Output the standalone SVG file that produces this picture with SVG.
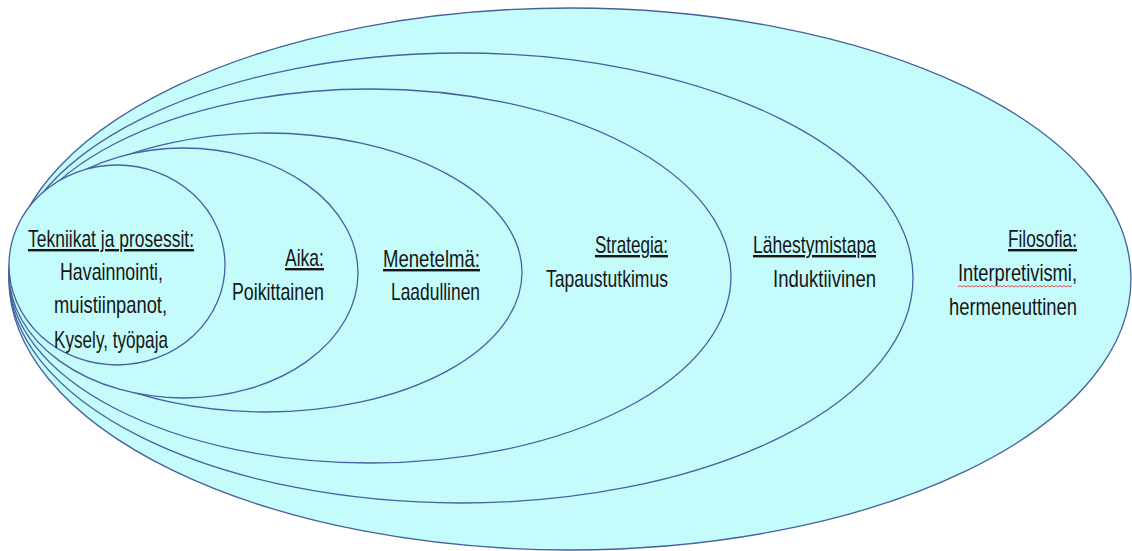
<svg xmlns="http://www.w3.org/2000/svg" width="1132" height="551" viewBox="0 0 1132 551">
  <style>
    .ring { fill: #c4fcfc; stroke: #46619e; stroke-width: 1.3; }
    .t { font-family: "Liberation Sans", Arial, sans-serif; font-size: 24px; fill: #161616; }
    .u { text-decoration: underline; }
  </style>
  <rect width="1132" height="551" fill="#ffffff"/>
  <g id="filosofia">
    <ellipse class="ring" cx="570" cy="279" rx="561" ry="271"/>
    <text class="t u" x="1008" y="247" textLength="69" lengthAdjust="spacingAndGlyphs">Filosofia:</text>
    <text class="t" x="958" y="281" textLength="119" lengthAdjust="spacingAndGlyphs">Interpretivismi,</text>
    <path d="M958 287 l2 -1.5 l2 1.5 l2 -1.5 l2 1.5 l2 -1.5 l2 1.5 l2 -1.5 l2 1.5 l2 -1.5 l2 1.5 l2 -1.5 l2 1.5 l2 -1.5 l2 1.5 l2 -1.5 l2 1.5 l2 -1.5 l2 1.5 l2 -1.5 l2 1.5 l2 -1.5 l2 1.5 l2 -1.5 l2 1.5 l2 -1.5 l2 1.5 l2 -1.5 l2 1.5 l2 -1.5 l2 1.5 l2 -1.5 l2 1.5 l2 -1.5 l2 1.5 l2 -1.5 l2 1.5 l2 -1.5 l2 1.5 l2 -1.5 l2 1.5 l2 -1.5 l2 1.5 l2 -1.5 l2 1.5 l2 -1.5 l2 1.5 l2 -1.5 l2 1.5 l2 -1.5 l2 1.5 l2 -1.5 l2 1.5 l2 -1.5 l2 1.5 l2 -1.5 l2 1.5 l2 -1.5" fill="none" stroke="#e03c3c" stroke-width="0.9"/>
    <text class="t" x="949" y="315" textLength="128" lengthAdjust="spacingAndGlyphs">hermeneuttinen</text>
  </g>
  <g id="lahestymistapa">
    <ellipse class="ring" cx="461" cy="278" rx="452" ry="225"/>
    <text class="t u" x="753" y="253" textLength="123" lengthAdjust="spacingAndGlyphs">Lähestymistapa</text>
    <text class="t" x="773" y="287" textLength="103" lengthAdjust="spacingAndGlyphs">Induktiivinen</text>
  </g>
  <g id="strategia">
    <ellipse class="ring" cx="370" cy="276" rx="361" ry="187"/>
    <text class="t u" x="595" y="253" textLength="73" lengthAdjust="spacingAndGlyphs">Strategia:</text>
    <text class="t" x="546" y="287" textLength="122" lengthAdjust="spacingAndGlyphs">Tapaustutkimus</text>
  </g>
  <g id="menetelma">
    <ellipse class="ring" cx="265.5" cy="272.5" rx="256.5" ry="139.5"/>
    <text class="t u" x="383" y="267" textLength="97" lengthAdjust="spacingAndGlyphs">Menetelmä:</text>
    <text class="t" x="391" y="300" textLength="89" lengthAdjust="spacingAndGlyphs">Laadullinen</text>
  </g>
  <g id="aika">
    <ellipse class="ring" cx="183.5" cy="273" rx="174.5" ry="125"/>
    <text class="t u" x="285" y="266" textLength="39" lengthAdjust="spacingAndGlyphs">Aika:</text>
    <text class="t" x="232" y="300" textLength="92" lengthAdjust="spacingAndGlyphs">Poikittainen</text>
  </g>
  <g id="tekniikat">
    <ellipse class="ring" cx="117" cy="265" rx="108" ry="100"/>
    <text class="t u" x="28" y="247" textLength="166" lengthAdjust="spacingAndGlyphs">Tekniikat ja prosessit:</text>
    <text class="t" x="60" y="280" textLength="103" lengthAdjust="spacingAndGlyphs">Havainnointi,</text>
    <text class="t" x="54" y="313" textLength="113" lengthAdjust="spacingAndGlyphs">muistiinpanot,</text>
    <text class="t" x="54" y="348" textLength="114" lengthAdjust="spacingAndGlyphs">Kysely, työpaja</text>
  </g>
  <g id="connectors"/>
</svg>
